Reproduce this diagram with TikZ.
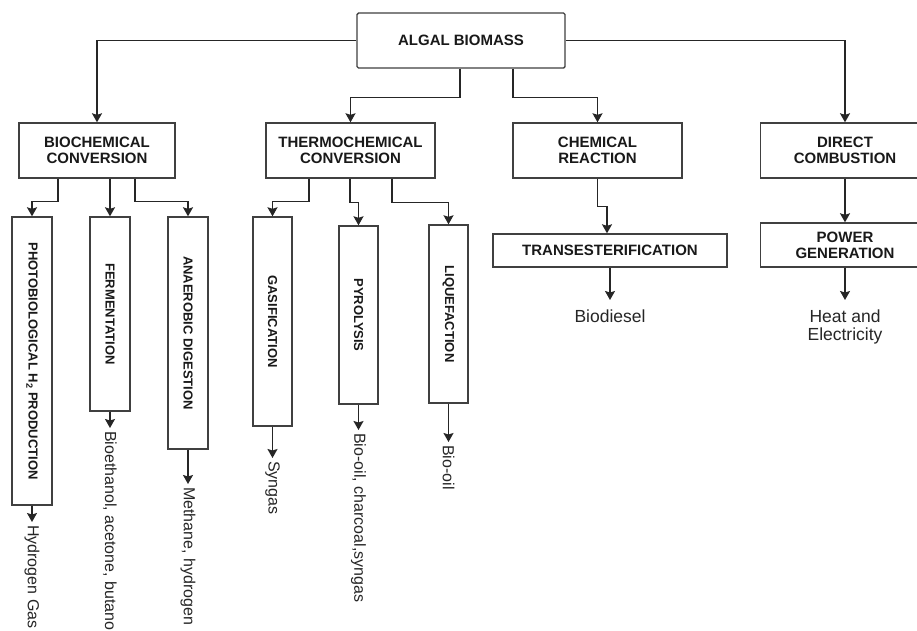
\documentclass[tikz,border=0pt]{standalone}
\usepackage{fontspec}
\setmainfont{Liberation Sans}
\usetikzlibrary{arrows.meta}
\begin{document}
\begin{tikzpicture}[x=1pt,y=-1pt,
  line/.style={draw=black!85, line width=1.4pt},
  arr/.style={line, -{Stealth[length=9pt,width=10pt,inset=1.5pt]}},
  hbox/.style={draw=black!75, line width=1.4pt, align=center, font=\fontsize{15}{16}\selectfont\bfseries, text=black!90, inner sep=0pt},
  vbox/.style={draw=black!75, line width=1.4pt, rotate=-90, font=\fontsize{13}{14}\selectfont\bfseries, text=black!90, inner sep=0pt},
  outh/.style={font=\fontsize{17.5}{18}\selectfont, text=black!85, align=center, anchor=north, inner xsep=0pt, inner ysep=10pt},
  outv/.style={font=\fontsize{16}{17}\selectfont, text=black!85, rotate=-90, anchor=west, inner xsep=3pt, inner ysep=0pt},
]
\clip (0,0) rectangle (917,630);
\fill[white] (0,0) rectangle (917,630);

\node[hbox, minimum width=208pt, minimum height=55pt, rounded corners=1.5pt] (alg) at (461,40.5) {ALGAL BIOMASS};
\node[hbox, minimum width=156pt, minimum height=55pt] (bio) at (97,150.5) {BIOCHEMICAL\\CONVERSION};
\node[hbox, minimum width=169pt, minimum height=55pt] (thermo) at (350.5,150.5) {THERMOCHEMICAL\\CONVERSION};
\node[hbox, minimum width=169pt, minimum height=55pt] (chem) at (597.5,150.5) {CHEMICAL\\REACTION};
\node[hbox, minimum width=169pt, minimum height=55pt] (dir) at (845,150.5) {DIRECT\\COMBUSTION};
\node[hbox, minimum width=234pt, minimum height=33pt] (trans) at (610,250.5) {TRANSESTERIFICATION};
\node[hbox, minimum width=169pt, minimum height=44pt] (power) at (845,245) {POWER\\GENERATION};

\node[vbox, minimum width=288pt, minimum height=40pt] (photo) at (32,361) {PHOTOBIOLOGICAL H\textsubscript{2} PRODUCTION};
\node[vbox, minimum width=194pt, minimum height=40pt] (ferm) at (110,314) {FERMENTATION};
\node[vbox, minimum width=232pt, minimum height=40pt] (anae) at (188,333) {ANAEROBIC DIGESTION};
\node[vbox, minimum width=209pt, minimum height=39pt] (gas) at (272.5,321.5) {GASIFICATION};
\node[vbox, minimum width=178pt, minimum height=39pt] (pyro) at (358.5,315) {PYROLYSIS};
\node[vbox, minimum width=178pt, minimum height=39pt] (liq) at (448.5,314) {LIQUEFACTION};

\node[outh] (bd) at (610,300) {Biodiesel};
\node[outh] (he) at (845,300) {Heat and\\Electricity};

\node[outv] (h2) at (32,522) {Hydrogen Gas};
\node[outv] (eth) at (110,428) {Bioethanol, acetone, butanol};
\node[outv] (meth) at (188,484) {Methane, hydrogen};
\node[outv] (syn) at (272.5,458) {Syngas};
\node[outv] (bo1) at (358.5,430) {Bio-oil, charcoal,syngas};
\node[outv] (bo2) at (448.5,442) {Bio-oil};

\draw[arr] (alg.west) -| (bio.north);
\draw[arr] ([xshift=-1pt]alg.south) -- ++(0,29) -| (thermo.north);
\draw[arr] ([xshift=52pt]alg.south) -- ++(0,29) -| (chem.north);
\draw[arr] (alg.east) -| (dir.north);

\draw[arr] ([xshift=-39pt]bio.south) -- ++(0,23) -| (photo.west);
\draw[arr] (bio.south -| ferm.west) -- (ferm.west);
\draw[arr] ([xshift=38pt]bio.south) -- ++(0,23) -| (anae.west);

\draw[arr] ([xshift=-41.5pt]thermo.south) -- ++(0,23) -| (gas.west);
\draw[arr] ([xshift=-0.5pt]thermo.south) -- ++(0,24) -| (pyro.west);
\draw[arr] ([xshift=41.5pt]thermo.south) -- ++(0,24) -| (liq.west);

\draw[arr] (chem.south) -- ++(0,28) -| ([xshift=-3pt]trans.north);
\draw[arr] (dir.south) -- (power.north);
\draw[arr] (trans.south) -- (bd.north);
\draw[arr] (power.south) -- (he.north);

\draw[arr] (photo.east) -- (h2.west);
\draw[arr] (ferm.east) -- (eth.west);
\draw[arr] (anae.east) -- (meth.west);
\draw[arr] (gas.east) -- (syn.west);
\draw[arr] (pyro.east) -- (bo1.west);
\draw[arr] (liq.east) -- (bo2.west);
\end{tikzpicture}
\end{document}
